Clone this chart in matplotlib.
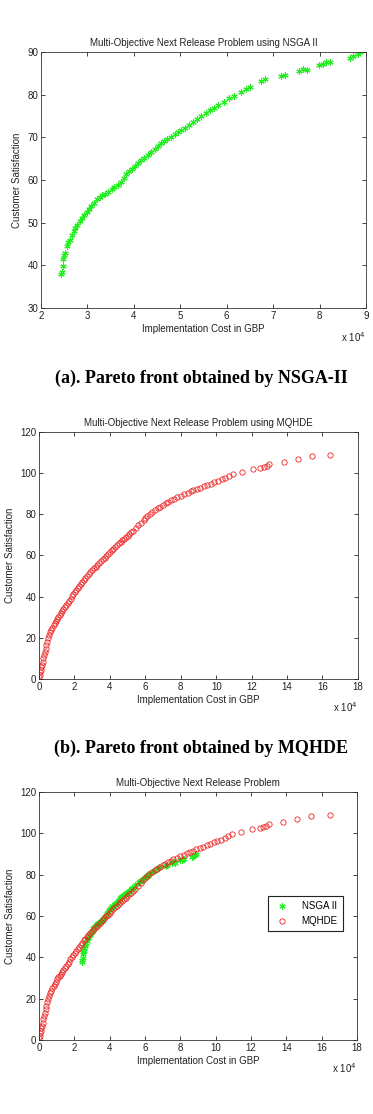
import matplotlib
matplotlib.use('Agg')
import matplotlib.pyplot as plt

plt.rcParams['font.family'] = ['Liberation Sans', 'DejaVu Sans']

# NSGA-II front (cost in units of 1e4 GBP, satisfaction)
nsga_cost = [2.42, 2.45, 2.47, 2.48, 2.50, 2.52, 2.55, 2.58, 2.62, 2.66,
             2.70, 2.74, 2.78, 2.83, 2.88, 2.93, 2.98, 3.03, 3.08, 3.14,
             3.20, 3.26, 3.32, 3.38, 3.45, 3.52, 3.58, 3.65, 3.72, 3.78,
             3.84, 3.90, 3.96, 4.02, 4.08, 4.15, 4.22, 4.30, 4.38, 4.45,
             4.52, 4.58, 4.65, 4.72, 4.80, 4.88, 4.95, 5.02, 5.10, 5.18,
             5.28, 5.36, 5.45, 5.55, 5.65, 5.72, 5.82, 5.95, 6.05, 6.15,
             6.30, 6.42, 6.50, 6.75, 6.82, 7.18, 7.25, 7.55, 7.65, 7.72,
             7.98, 8.08, 8.15, 8.22, 8.65, 8.72, 8.82, 8.88]
nsga_sat = [38.0, 38.5, 39.8, 41.5, 42.5, 43.0, 44.5, 45.5, 46.0, 47.0,
            48.0, 48.8, 49.5, 50.3, 51.0, 51.8, 52.5, 53.2, 54.0, 54.6,
            55.5, 56.0, 56.4, 56.8, 57.3, 57.8, 58.3, 58.8, 59.6, 60.5,
            61.3, 62.0, 62.7, 63.3, 64.0, 64.7, 65.2, 65.8, 66.5, 67.3,
            68.0, 68.6, 69.1, 69.6, 70.2, 70.8, 71.3, 71.8, 72.3, 72.9,
            73.6, 74.2, 74.9, 75.6, 76.3, 76.9, 77.5, 78.3, 79.2, 79.6,
            80.6, 81.4, 81.8, 83.2, 83.6, 84.3, 84.7, 85.6, 86.0, 85.8,
            86.9, 87.3, 87.7, 87.6, 88.7, 89.0, 89.6, 90.0]

# MQHDE front
mq_cost = [0.02, 0.05, 0.08, 0.10, 0.13, 0.16, 0.20, 0.24, 0.28, 0.32,
           0.37, 0.42, 0.47, 0.52, 0.58, 0.64, 0.70, 0.76, 0.82, 0.88,
           0.95, 1.02, 1.09, 1.16, 1.23, 1.30, 1.38, 1.46, 1.54, 1.62,
           1.70, 1.78, 1.86, 1.94, 2.02, 2.10, 2.18, 2.26, 2.35, 2.44,
           2.53, 2.62, 2.71, 2.80, 2.90, 3.00, 3.10, 3.20, 3.30, 3.40,
           3.50, 3.60, 3.70, 3.80, 3.90, 4.00, 4.10, 4.20, 4.30, 4.40,
           4.50, 4.60, 4.70, 4.80, 4.90, 5.00, 5.10, 5.20, 5.30, 5.45,
           5.60, 5.75, 5.90, 6.00, 6.10, 6.25, 6.40, 6.55, 6.70, 6.85,
           7.00, 7.15, 7.30, 7.45, 7.60, 7.80, 8.00, 8.20, 8.40, 8.55,
           8.70, 8.90, 9.10, 9.30, 9.50, 9.70, 9.90, 10.10, 10.30, 10.50,
           10.70, 10.95, 11.45, 12.05, 12.50, 12.70, 12.85, 13.00, 13.80, 14.60,
           15.40, 16.45]
mq_sat = [0.8, 2.0, 3.2, 4.2, 5.6, 6.8, 8.4, 10.0, 11.6, 13.0,
          14.8, 16.4, 18.2, 19.8, 21.2, 22.6, 23.8, 25.0, 26.2, 27.2,
          28.2, 29.3, 30.3, 31.2, 32.1, 33.0, 34.0, 35.0, 36.0, 37.0,
          38.0, 39.1, 40.1, 41.2, 42.3, 43.3, 44.2, 45.1, 46.0, 47.1,
          48.2, 49.1, 49.9, 50.8, 51.8, 52.9, 53.8, 54.6, 55.4, 56.3,
          57.2, 58.1, 59.0, 59.9, 60.7, 61.6, 62.5, 63.3, 64.2, 65.0,
          65.9, 66.6, 67.3, 68.1, 68.9, 69.6, 70.5, 71.3, 72.1, 73.3,
          74.6, 75.9, 77.2, 78.2, 79.2, 80.2, 81.2, 82.1, 83.0, 83.8,
          84.6, 85.4, 86.1, 86.8, 87.4, 88.2, 89.0, 89.7, 90.5, 91.1,
          91.6, 92.3, 93.0, 93.6, 94.3, 94.9, 95.6, 96.3, 97.0, 97.8,
          98.6, 99.6, 100.8, 102.0, 102.4, 102.9, 103.6, 104.4, 105.6, 107.0,
          108.2, 108.9]

GREEN = '#22ee22'
RED = '#ee2222'
TXT = '#222222'
FS = 7


def style_axes(ax, title, xlim, xticks, ylim, yticks):
    ax.set_xlim(*xlim)
    ax.set_ylim(*ylim)
    ax.set_xticks(xticks)
    ax.set_yticks(yticks)
    ax.tick_params(direction='in', top=True, right=True, length=3, width=0.6,
                   labelsize=FS, pad=2, colors=TXT)
    for sp in ax.spines.values():
        sp.set_linewidth(0.6)
        sp.set_color('#333333')
    ax.set_title(title, fontsize=FS, pad=4, color=TXT)
    ax.set_xlabel("Implementation Cost in GBP", fontsize=FS, labelpad=2, color=TXT)
    ax.set_ylabel("Customer Satisfaction", fontsize=FS, labelpad=4, color=TXT)
    ax.text(1.0, -0.085, r'x 10$^4$', transform=ax.transAxes, ha='right', va='top',
            fontsize=FS, color=TXT)


def draw_nsga(ax, label=None):
    ax.plot(nsga_cost, nsga_sat, linestyle='none', marker=(6, 2, 0), markersize=4.5,
            markeredgewidth=0.8, color=GREEN, label=label)


def draw_mq(ax, label=None):
    ax.plot(mq_cost, mq_sat, linestyle='none', marker='o', markersize=3.8,
            markerfacecolor='none', markeredgewidth=0.6, color=RED, label=label)


fig = plt.figure(figsize=(3.73, 11.14), dpi=100)

# (a) NSGA-II
ax1 = fig.add_axes([0.110, 0.7235, 0.871, 0.2298])
draw_nsga(ax1)
style_axes(ax1, "Multi-Objective Next Release Problem using NSGA II",
           (2, 9), range(2, 10), (30, 90), range(30, 91, 10))

fig.text(0.540, 1 - 378 / 1114, "(a). Pareto front obtained by NSGA-II", ha='center', va='center',
         fontsize=13, fontweight='bold', family=['Liberation Serif', 'DejaVu Serif'])

# (b) MQHDE
ax2 = fig.add_axes([0.1046, 0.3905, 0.855, 0.2217])
draw_mq(ax2)
style_axes(ax2, "Multi-Objective Next Release Problem using MQHDE",
           (0, 18), range(0, 19, 2), (0, 120), range(0, 121, 20))

fig.text(0.539, 1 - 748 / 1114, "(b). Pareto front obtained by MQHDE", ha='center', va='center',
         fontsize=13, fontweight='bold', family=['Liberation Serif', 'DejaVu Serif'])

# (c) both
ax3 = fig.add_axes([0.1046, 0.0664, 0.8525, 0.2226])
draw_nsga(ax3, "NSGA II")
draw_mq(ax3, "MQHDE")
style_axes(ax3, "Multi-Objective Next Release Problem",
           (0, 18), range(0, 19, 2), (0, 120), range(0, 121, 20))
leg = ax3.legend(loc='center right', bbox_to_anchor=(0.97, 0.51), fontsize=FS,
                 fancybox=False, framealpha=1, edgecolor='#222222', borderpad=0.5,
                 handletextpad=1.0, labelspacing=0.5)
leg.get_frame().set_linewidth(0.8)

fig.savefig("out.png", dpi=100)
